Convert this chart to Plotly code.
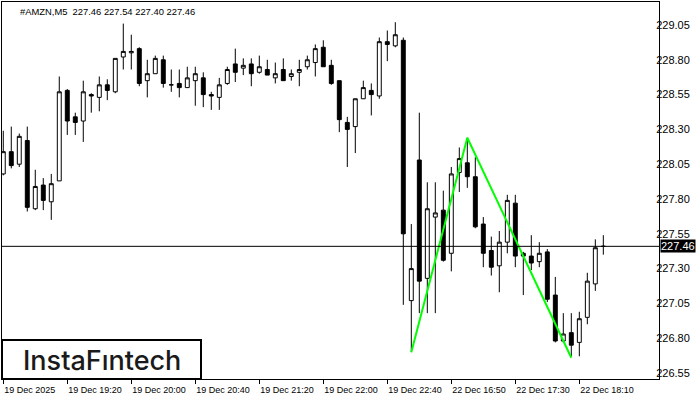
import plotly.graph_objects as go

# M5 bars, left to right
opens = [227.98, 228.14, 228.05, 228.22, 227.73, 227.90, 227.78, 227.93, 228.58, 228.39,
         228.36, 228.55, 228.53, 228.62, 228.57, 228.82, 228.85, 228.88, 228.65, 228.70,
         228.80, 228.62, 228.63, 228.60, 228.65, 228.67, 228.55, 228.53, 228.63, 228.77,
         228.74, 228.77, 228.71, 228.73, 228.67, 228.73, 228.68, 228.71, 228.75, 228.78,
         228.89, 228.76, 228.65, 228.35, 228.32, 228.52, 228.58, 228.54, 228.93, 228.90,
         228.94, 227.07, 228.08, 227.23, 227.67, 227.72, 227.41, 227.99, 228.06, 227.96,
         227.62, 227.43, 227.32, 227.49, 227.77, 227.41, 227.39, 227.35, 227.42, 227.11,
         226.78, 226.84, 226.77, 226.95, 227.19, 227.46]
highs = [228.29, 228.32, 228.27, 228.32, 228.01, 227.95, 227.98, 228.68, 228.59, 228.42,
         228.65, 228.56, 228.68, 228.66, 228.81, 229.06, 228.98, 228.89, 228.80, 228.83,
         228.83, 228.73, 228.73, 228.75, 228.75, 228.71, 228.57, 228.67, 228.75, 228.88,
         228.81, 228.81, 228.83, 228.80, 228.78, 228.81, 228.73, 228.80, 228.83, 228.91,
         228.94, 228.80, 228.65, 228.39, 228.52, 228.65, 228.63, 228.96, 229.01, 229.07,
         228.96, 227.62, 228.42, 227.92, 227.92, 227.86, 228.03, 228.17, 228.24, 228.10,
         227.67, 227.53, 227.57, 227.83, 227.83, 227.42, 227.54, 227.49, 227.44, 227.24,
         226.98, 226.98, 226.99, 227.27, 227.51, 227.54]
lows = [227.97, 228.02, 228.03, 227.71, 227.72, 227.72, 227.65, 227.93, 228.26, 228.26,
        228.21, 228.42, 228.43, 228.51, 228.56, 228.73, 228.73, 228.61, 228.53, 228.70,
        228.60, 228.57, 228.53, 228.60, 228.47, 228.46, 228.44, 228.44, 228.62, 228.64,
        228.69, 228.61, 228.70, 228.69, 228.63, 228.65, 228.65, 228.61, 228.73, 228.68,
        228.75, 228.62, 228.28, 228.03, 228.13, 228.52, 228.40, 228.52, 228.79, 228.89,
        227.04, 226.70, 226.98, 226.98, 226.98, 227.35, 227.28, 227.85, 227.88, 227.59,
        227.31, 227.25, 227.13, 227.41, 227.31, 227.11, 227.29, 227.31, 227.06, 226.77,
        226.77, 226.67, 226.67, 226.90, 227.14, 227.40]
closes = [228.14, 228.04, 228.25, 227.74, 227.89, 227.79, 227.91, 228.57, 228.36, 228.35,
          228.57, 228.54, 228.62, 228.58, 228.81, 228.86, 228.86, 228.63, 228.70, 228.81,
          228.63, 228.62, 228.60, 228.67, 228.70, 228.55, 228.54, 228.62, 228.73, 228.71,
          228.76, 228.70, 228.75, 228.69, 228.70, 228.65, 228.70, 228.73, 228.80, 228.88,
          228.75, 228.63, 228.37, 228.30, 228.52, 228.60, 228.55, 228.93, 228.91, 228.98,
          227.55, 227.30, 227.21, 227.73, 227.70, 227.36, 227.98, 228.09, 227.96, 227.60,
          227.41, 227.31, 227.49, 227.79, 227.39, 227.39, 227.34, 227.41, 227.08, 226.78,
          226.83, 226.75, 226.94, 227.21, 227.45, 227.46]
bars = list(range(len(opens)))

tick_bars = [0, 8, 16, 24, 32, 40, 48, 56, 64, 72]
tick_text = ["19 Dec 2025", "19 Dec 19:20", "19 Dec 20:00", "19 Dec 20:40", "19 Dec 21:20",
             "19 Dec 22:00", "19 Dec 22:40", "22 Dec 16:50", "22 Dec 17:30", "22 Dec 18:10"]

# pattern line (bottom - top - bottom)
pattern_bars = [51, 58, 71]
pattern_prices = [226.70, 228.24, 226.66]

last_price = 227.46

fig = go.Figure()
fig.add_trace(go.Candlestick(
    x=bars, open=opens, high=highs, low=lows, close=closes,
    increasing=dict(line=dict(color="black", width=1), fillcolor="white"),
    decreasing=dict(line=dict(color="black", width=1), fillcolor="black"),
    whiskerwidth=0,
    hoverinfo="skip",
))
fig.add_trace(go.Scatter(
    x=pattern_bars, y=pattern_prices, mode="lines",
    line=dict(color="#00ff00", width=2), hoverinfo="skip",
))

fig.add_hline(y=last_price, line=dict(color="black", width=1))

# logo box
fig.add_shape(type="rect", xref="paper", yref="paper", x0=0, x1=0.3029, y0=0, y1=0.1034,
              fillcolor="white", line=dict(color="black", width=2), layer="above")
fig.add_annotation(x=0.152, y=0.05, xref="paper", yref="paper", xanchor="center", yanchor="middle",
                   text="InstaFıntech", showarrow=False,
                   font=dict(family="Inter", size=27, color="#1a1a1a", weight=500))

fig.add_annotation(x=0.0244, y=0.976, xref="paper", yref="paper", xanchor="left", yanchor="middle",
                   text="#AMZN,M5  227.46 227.54 227.40 227.46", showarrow=False,
                   font=dict(family="Liberation Sans", size=9.4, color="black"))

fig.add_annotation(x=1, y=last_price, xref="paper", yref="y", xanchor="left", xshift=1,
                   text=f"{last_price:.2f}", showarrow=False, bgcolor="black", borderpad=0,
                   font=dict(family="Liberation Sans", size=11, color="white"))

fig.update_layout(
    width=700, height=400,
    margin=dict(l=2, r=41, t=2, b=21),
    paper_bgcolor="white", plot_bgcolor="white",
    showlegend=False,
    xaxis=dict(
        range=[-0.16, 81.96], rangeslider=dict(visible=False),
        tickvals=tick_bars, ticktext=tick_text, ticks="outside", ticklen=4, tickcolor="black",
        ticklabelposition="outside right", ticklabelstandoff=2,
        showgrid=False, zeroline=False, showline=True, mirror=True, linecolor="black", linewidth=1,
        tickfont=dict(family="Liberation Sans", size=9, color="black"),
    ),
    yaxis=dict(
        range=[226.507, 229.215], side="right",
        tick0=226.55, dtick=0.25, tickformat=".2f", ticks="", ticklabelstandoff=-6,
        showgrid=False, zeroline=False, showline=True, mirror=True, linecolor="black", linewidth=1,
        tickfont=dict(family="Liberation Sans", size=11, color="black"),
    ),
)

fig.write_html("out.html", config={"displayModeBar": False},
               post_script="document.body.style.margin = '0';")
